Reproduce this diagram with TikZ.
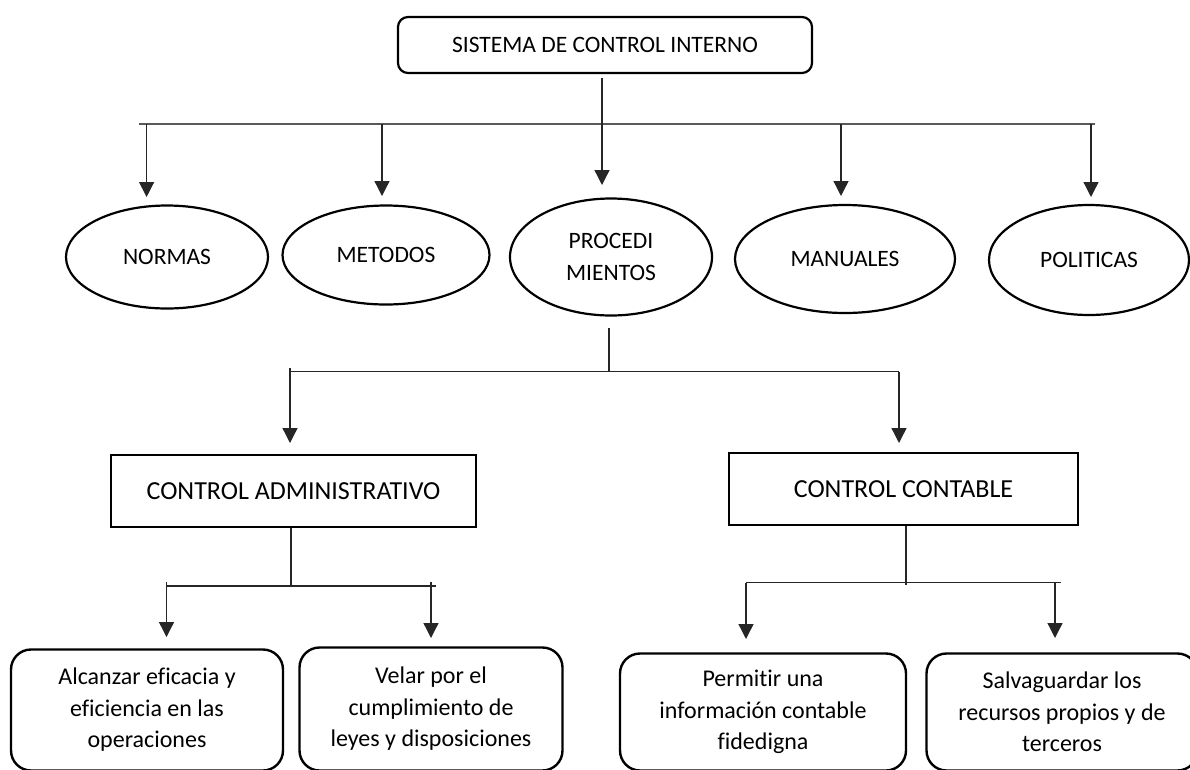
\documentclass[tikz,border=0pt]{standalone}
\usepackage{fontspec}
\setmainfont{Carlito}[Ligatures={NoCommon}]
\usetikzlibrary{shapes.geometric,arrows.meta}
\tikzset{
  conn/.style={line width=1.3pt, draw=black!85},
  bus/.style={line width=1.8pt, draw=black!65},
  arr/.style={conn, -{Triangle[width=15pt,length=15pt]}},
  topbox/.style={draw, line width=2.2pt, rounded corners=10pt, minimum width=414pt, minimum height=56pt, inner sep=0pt, font=\fontsize{23.5}{28}\selectfont},
  oval/.style={draw, ellipse, line width=2.2pt, inner sep=0pt, font=\fontsize{23.5}{32}\selectfont, align=center},
  ctrlbox/.style={draw, rectangle, line width=2.4pt, inner sep=0pt, font=\fontsize{26}{30}\selectfont},
  leaf/.style={draw, rectangle, rounded corners=20pt, line width=2.4pt, inner sep=0pt, align=center, font=\fontsize{24}{31.5}\selectfont}
}
\begin{document}
\begin{tikzpicture}[x=1pt,y=-1pt]
\useasboundingbox (0,0) rectangle (1190,769);
% top
\node[topbox] (top) at (605,45) {SISTEMA DE CONTROL INTERNO};
% ellipses
\node[oval, minimum width=202pt, minimum height=103pt] (normas) at (167,257) {NORMAS};
\node[oval, minimum width=207pt, minimum height=99pt] (metodos) at (386,255) {METODOS};
\node[oval, minimum width=202pt, minimum height=117pt] (proc) at (611,257) {PROCEDI\\MIENTOS};
\node[oval, minimum width=220pt, minimum height=108pt] (manuales) at (845,259) {MANUALES};
\node[oval, minimum width=200pt, minimum height=110pt] (politicas) at (1089,260) {POLITICAS};
% bus 1
\coordinate (b1L) at (138.5,124);
\coordinate (b1R) at (1095,124);
\draw[bus] (b1L) -- (b1R);
\coordinate (tN) at (146.6,197);
\coordinate (tM) at (382,196);
\coordinate (tP) at (602,185);
\coordinate (tMa) at (841,196);
\coordinate (tPo) at (1091,197);
\draw[arr] (b1L -| tN) -- (tN);
\draw[arr] (b1L -| tM) -- (tM);
\draw[arr] (602,78) -- (tP);
\draw[arr] (b1L -| tMa) -- (tMa);
\draw[arr] (b1L -| tPo) -- (tPo);
% control boxes
\node[ctrlbox, minimum width=365pt, minimum height=72pt] (ca) at (293.5,491) {CONTROL ADMINISTRATIVO};
\node[ctrlbox, minimum width=349pt, minimum height=72pt] (cc) at (903.5,489) {CONTROL CONTABLE};
% bus 2
\coordinate (p2) at (609,328);
\coordinate (b2L) at (290,371.7);
\coordinate (b2R) at (899,371.7);
\draw[conn] (p2) -- (p2 |- b2L);
\draw[conn] (b2L) -- (b2R);
\coordinate (tCA) at (290,443);
\coordinate (tCC) at (899,443);
\draw[arr] (290,368) -- (tCA);
\draw[arr] (b2R) -- (tCC);
% leaves
\node[leaf, minimum width=272pt, minimum height=121pt] (l1) at (147,710) {Alcanzar eficacia y\\eficiencia en las\\operaciones};
\node[leaf, minimum width=263pt, minimum height=123pt] (l2) at (431,709) {Velar por el\\cumplimiento de\\leyes y disposiciones};
\node[leaf, minimum width=286pt, minimum height=117pt] (l3) at (763,712) {Permitir una\\información contable\\fidedigna};
\node[leaf, minimum width=271pt, minimum height=117pt] (l4) at (1062,712) {Salvaguardar los\\recursos propios y de\\terceros};
% bus 3 (administrativo)
\coordinate (b3L) at (166.5,586);
\coordinate (b3R) at (436,586);
\draw[conn] (ca.south -| 291,0) -- (291,586);
\draw[conn] (b3L) -- (b3R);
\coordinate (tl1) at (166.5,637);
\coordinate (tl2) at (431,638);
\draw[arr] (166.5,582) -- (tl1);
\draw[arr] (431,582) -- (tl2);
% bus 4 (contable)
\coordinate (b4L) at (746,582.7);
\coordinate (b4R) at (1060.7,582.7);
\draw[conn] (cc.south -| 906,0) -- (906,585);
\draw[conn] (b4L) -- (b4R);
\coordinate (tl3) at (746,639);
\coordinate (tl4) at (1055,638);
\draw[arr] (b4L) -- (tl3);
\draw[arr] (b4L -| tl4) -- (tl4);
\end{tikzpicture}
\end{document}
